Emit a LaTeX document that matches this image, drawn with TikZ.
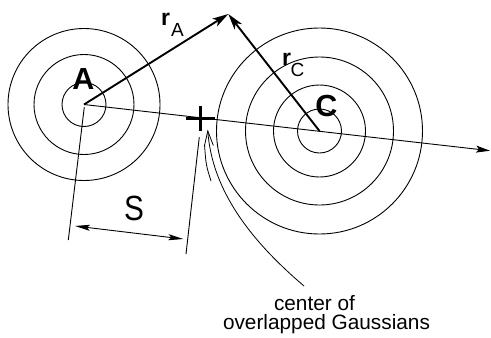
\documentclass[tikz,border=0pt]{standalone}
\usepackage{fontspec}
\setmainfont{Liberation Sans}
\usetikzlibrary{arrows.meta}
\begin{document}
\begin{tikzpicture}[x=1pt,y=-1pt]
		\tikzset{ring/.style={line width=0.9pt},
			thinline/.style={line width=0.9pt},
			vec/.style={line width=1.9pt,-{Stealth[length=16pt,width=9pt,inset=4pt]}},
			axis/.style={line width=0.9pt,-{Stealth[length=14pt,width=7pt,inset=3pt]}},
			dimline/.style={line width=0.9pt,{Stealth[length=15pt,width=6pt,inset=3pt]}-{Stealth[length=15pt,width=6pt,inset=3pt]}},
			ptr/.style={line width=0.8pt,-{Straight Barb[length=15pt,width=9pt]}},
			bigfont/.style={font=\fontsize{30.5}{30}\selectfont\bfseries,inner sep=0pt},
			rfont/.style={font=\fontsize{23}{23}\selectfont\bfseries,inner sep=0pt},
			subfont/.style={font=\fontsize{19}{19}\selectfont,inner sep=0pt},
			sfont/.style={font=\fontsize{35}{35}\selectfont,inner sep=0pt},
			capfont/.style={font=\fontsize{20.8}{20}\selectfont,inner sep=0pt}}
		\useasboundingbox (0,0) rectangle (491,338);
		\coordinate (Actr) at (84,104.5);
		\coordinate (Cctr) at (319.5,131);
		\coordinate (top) at (228.3,14);
		\coordinate (axEnd) at (490,150.7);
		\coordinate (ovl) at (200.5,118.3);
		\coordinate (extLa) at (84.3,107);
		\coordinate (extLb) at (68.3,240);
		\coordinate (extRa) at (199.3,137);
		\coordinate (extRb) at (186,254);
		\coordinate (sL) at (75,226);
		\coordinate (sR) at (183.3,239);
		\coordinate (ptrTip) at (207.7,129.5);
		\coordinate (ptrEnd) at (304,286);
		\coordinate (barbL) at (204.5,144.6);
		\coordinate (dblEnd) at (211,181);
		\draw[ring] (Actr) circle (22) (Actr) circle (50) (Actr) circle (76);
		\draw[ring] (Cctr) circle (22) (Cctr) circle (46) (Cctr) circle (74) (Cctr) circle (103);
		\draw[axis] (Actr) -- (axEnd);
		\draw[vec] (Actr) -- (top);
		\draw[vec] (Cctr) -- (top);
		\draw[line width=3pt] ([xshift=-14.5pt]ovl) -- ([xshift=14.5pt]ovl);
		\draw[line width=3pt] ([yshift=12.3pt]ovl) -- ([yshift=-12.7pt]ovl);
		\draw[thinline] (extLa) -- (extLb);
		\draw[thinline] (extRa) -- (extRb);
		\draw[dimline] (sL) -- (sR);
		\draw[ptr] (ptrEnd) .. controls (250,240) and (212,190) .. (ptrTip);
		\draw[line width=0.8pt] (barbL) .. controls (206,165) .. (dblEnd);
		\node[bigfont,anchor=base] (labA) at (83.5,89.3) {A};
		\node[bigfont,anchor=base] (labC) at (326.3,116.3) {C};
		\node[rfont,anchor=base west] (rA) at (161,25) {r};
		\node[subfont,anchor=base west] (rAsub) at (171,36.7) {A};
		\node[rfont,anchor=base west] (rC) at (282,65) {r};
		\node[subfont,anchor=base west] (rCsub) at (290.5,76) {C};
		\node[sfont,anchor=base] (labS) at (134,220) {\scalebox{0.85}[1]{S}};
		\node[capfont,anchor=base] (noteA) at (314.5,310) {center of};
		\node[capfont,anchor=base] (noteB) at (326.5,329.3) {overlapped Gaussians};
	\end{tikzpicture}
\end{document}
